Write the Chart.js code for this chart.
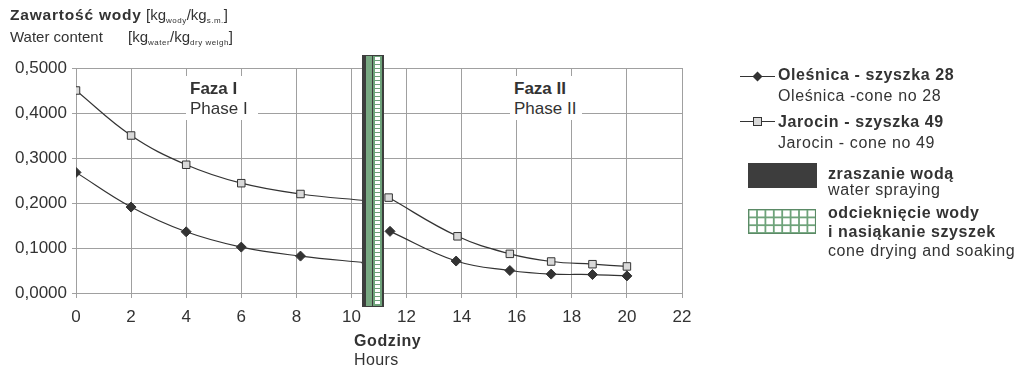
<!DOCTYPE html>
<html><head><meta charset="utf-8">
<script src="https://cdn.jsdelivr.net/npm/chart.js@4.4.0/dist/chart.umd.min.js"></script>
<style>
html,body{margin:0;padding:0;background:#fff;}
#wrap{position:relative;width:1021px;height:369px;overflow:hidden;font-family:"Liberation Sans",Arial,sans-serif;color:#333;}
#c{position:absolute;left:0;top:0;}
.t{position:absolute;white-space:nowrap;line-height:1;}
.b{font-weight:bold;}
.sub{font-size:8px;position:relative;top:3px;letter-spacing:0.5px;}
.box{position:absolute;background:#fff;}
.lg{font-size:16px;letter-spacing:0.6px;}
</style></head>
<body><div id="wrap"><canvas id="c" width="1021" height="369"></canvas>
<div class="t" style="left:10px;top:7px;font-size:15px;"><span class="b" style="font-size:15.5px;letter-spacing:0.8px">Zawartość wody</span> [kg<span class="sub">wody</span>/kg<span class="sub">s.m.</span>]</div>
<div class="t" style="left:10px;top:28.8px;font-size:15px;">Water content</div>
<div class="t" style="left:128px;top:28.8px;font-size:15px;">[kg<span class="sub">water</span>/kg<span class="sub">dry weigh</span>]</div>

<div class="box" style="left:186px;top:76px;width:72px;height:44px;"></div>
<div class="t b" style="left:190px;top:80px;font-size:17px;">Faza I</div>
<div class="t" style="left:190px;top:100px;font-size:17px;">Phase I</div>
<div class="box" style="left:510px;top:76px;width:72px;height:44px;"></div>
<div class="t b" style="left:514px;top:80px;font-size:17px;">Faza II</div>
<div class="t" style="left:514px;top:100px;font-size:17px;">Phase II</div>

<div class="t b" style="left:354px;top:333px;font-size:16px;letter-spacing:0.6px;">Godziny</div>
<div class="t" style="left:354px;top:351.5px;font-size:16px;letter-spacing:0.4px;">Hours</div>

<div class="t b lg" style="left:778px;top:67px;">Oleśnica - szyszka 28</div>
<div class="t lg" style="left:778px;top:87.5px;">Oleśnica -cone no 28</div>
<div class="t b lg" style="left:778px;top:114px;">Jarocin - szyszka 49</div>
<div class="t lg" style="left:778px;top:134.5px;">Jarocin - cone no 49</div>
<div class="t b lg" style="left:828px;top:166px;">zraszanie wodą</div>
<div class="t lg" style="left:828px;top:182px;">water spraying</div>
<div class="t b lg" style="left:828px;top:205px;">odcieknięcie wody</div>
<div class="t b lg" style="left:828px;top:224px;">i nasiąkanie szyszek</div>
<div class="t lg" style="left:828px;top:242.5px;">cone drying and soaking</div>
</div>
<script>
// ---- data ----
const hoursOlesnica = [0, 2, 4, 6, 8.15, 10.55, 10.9, 11.4, 13.8, 15.75, 17.25, 18.75, 20.0];
const waterOlesnica = [0.268, 0.191, 0.136, 0.102, 0.082, 0.067, null, 0.137, 0.071, 0.050, 0.042, 0.041, 0.038];
const hoursJarocin = [0, 2, 4, 6, 8.15, 10.55, 10.9, 11.35, 13.85, 15.75, 17.25, 18.75, 20.0];
const waterJarocin = [0.450, 0.350, 0.285, 0.244, 0.220, 0.205, null, 0.212, 0.126, 0.087, 0.070, 0.064, 0.059];
const sprayBand = [10.38, 10.53];   // zraszanie wodą
const soakBand = [10.53, 11.18];    // odcieknięcie wody i nasiąkanie szyszek
const xTicks = [0, 2, 4, 6, 8, 10, 12, 14, 16, 18, 20, 22];
const yTicks = [0, 0.1, 0.2, 0.3, 0.4, 0.5];

const TXT = '#333333';
const GRID = '#a0a0a0';
const DARK = '#3d3d3d';
const FONT = '"Liberation Sans", Arial, sans-serif';

function pts(xs, ys) { return xs.map((x, i) => ({x: x, y: ys[i]})); }

const bandPlugin = {
  id: 'bands',
  afterDatasetsDraw(chart) {
    const ctx = chart.ctx, xs = chart.scales.x, a = chart.chartArea;
    const y0 = a.top - 13, y1 = a.bottom + 14;
    const s0 = Math.round(xs.getPixelForValue(sprayBand[0]));
    const s1 = Math.round(xs.getPixelForValue(sprayBand[1]));
    const k1 = Math.round(xs.getPixelForValue(soakBand[1]));
    ctx.save();
    ctx.fillStyle = DARK;
    ctx.fillRect(s0, y0, k1 - s0, y1 - y0);
    ctx.fillStyle = '#78a882';
    ctx.fillRect(s1, y0 + 1, 6, y1 - y0 - 2);
    ctx.fillStyle = '#6ea37a';
    ctx.fillRect(s1 + 7, y0 + 1, k1 - s1 - 9, y1 - y0 - 2);
    ctx.fillStyle = '#ffffff';
    for (let y = y0 + 2; y + 3 <= y1 - 1; y += 4) {
      ctx.fillRect(s1 + 9, y, k1 - s1 - 13, 3);
    }
    ctx.restore();
  },
  afterDraw(chart) {
    const ctx = chart.ctx;
    ctx.save();
    ctx.strokeStyle = TXT; ctx.lineWidth = 1;
    ctx.beginPath(); ctx.moveTo(740, 76.5); ctx.lineTo(775, 76.5); ctx.stroke();
    ctx.fillStyle = TXT;
    ctx.beginPath(); ctx.moveTo(757.5, 71.5); ctx.lineTo(762.5, 76.5); ctx.lineTo(757.5, 81.5); ctx.lineTo(752.5, 76.5); ctx.closePath(); ctx.fill();
    ctx.beginPath(); ctx.moveTo(740, 121.5); ctx.lineTo(775, 121.5); ctx.stroke();
    ctx.fillStyle = '#d9d9d9';
    ctx.fillRect(754, 118, 7, 7); ctx.strokeRect(753.5, 117.5, 8, 8);
    ctx.fillStyle = DARK; ctx.fillRect(748, 163, 69, 25);
    ctx.fillStyle = '#6ea37a'; ctx.fillRect(748, 209, 68, 25);
    ctx.fillStyle = '#ffffff';
    for (let x = 749.5; x < 814; x += 8.4) {
      for (let y = 210.5; y < 232; y += 7.8) {
        ctx.fillRect(x, y, 6.6, Math.min(6, 232.5 - y));
      }
    }
    ctx.strokeStyle = '#5b8a66'; ctx.strokeRect(748.5, 209.5, 67, 24);
    ctx.restore();
  }
};

new Chart(document.getElementById('c'), {
  type: 'line',
  data: {
    datasets: [
      {
        label: 'Oleśnica - szyszka 28',
        data: pts(hoursOlesnica, waterOlesnica),
        borderColor: TXT, borderWidth: 1.2, tension: 0.4, spanGaps: false,
        pointStyle: 'rectRot', pointRadius: 5, pointBackgroundColor: TXT, pointBorderColor: TXT, pointBorderWidth: 1
      },
      {
        label: 'Jarocin - szyszka 49',
        data: pts(hoursJarocin, waterJarocin),
        borderColor: TXT, borderWidth: 1.2, tension: 0.4, spanGaps: false,
        pointStyle: 'rect', pointRadius: 5.3, pointBackgroundColor: '#d9d9d9', pointBorderColor: TXT, pointBorderWidth: 1
      }
    ]
  },
  options: {
    responsive: false, animation: false,
    layout: {padding: {left: 0, top: 68, right: 339, bottom: 46}},
    plugins: {legend: {display: false}, tooltip: {enabled: false}},
    scales: {
      x: {
        type: 'linear', min: 0, max: 22,
        afterBuildTicks: s => { s.ticks = xTicks.map(v => ({value: v})); },
        afterFit: s => { s.height = 30; },
        ticks: {color: TXT, font: {family: FONT, size: 17}, padding: 9, maxRotation: 0, autoSkip: false},
        grid: {color: GRID, lineWidth: 1, tickLength: 5, tickColor: GRID},
        border: {color: GRID}
      },
      y: {
        min: 0, max: 0.5,
        afterBuildTicks: s => { s.ticks = yTicks.map(v => ({value: v})); },
        afterFit: s => { s.width = 76; },
        ticks: {color: TXT, font: {family: FONT, size: 17}, padding: 5,
          callback: v => Number(v).toFixed(4).replace('.', ',')},
        grid: {color: GRID, lineWidth: 1, tickLength: 4, tickColor: GRID},
        border: {color: GRID}
      }
    }
  },
  plugins: [bandPlugin]
});
</script>
</body></html>
